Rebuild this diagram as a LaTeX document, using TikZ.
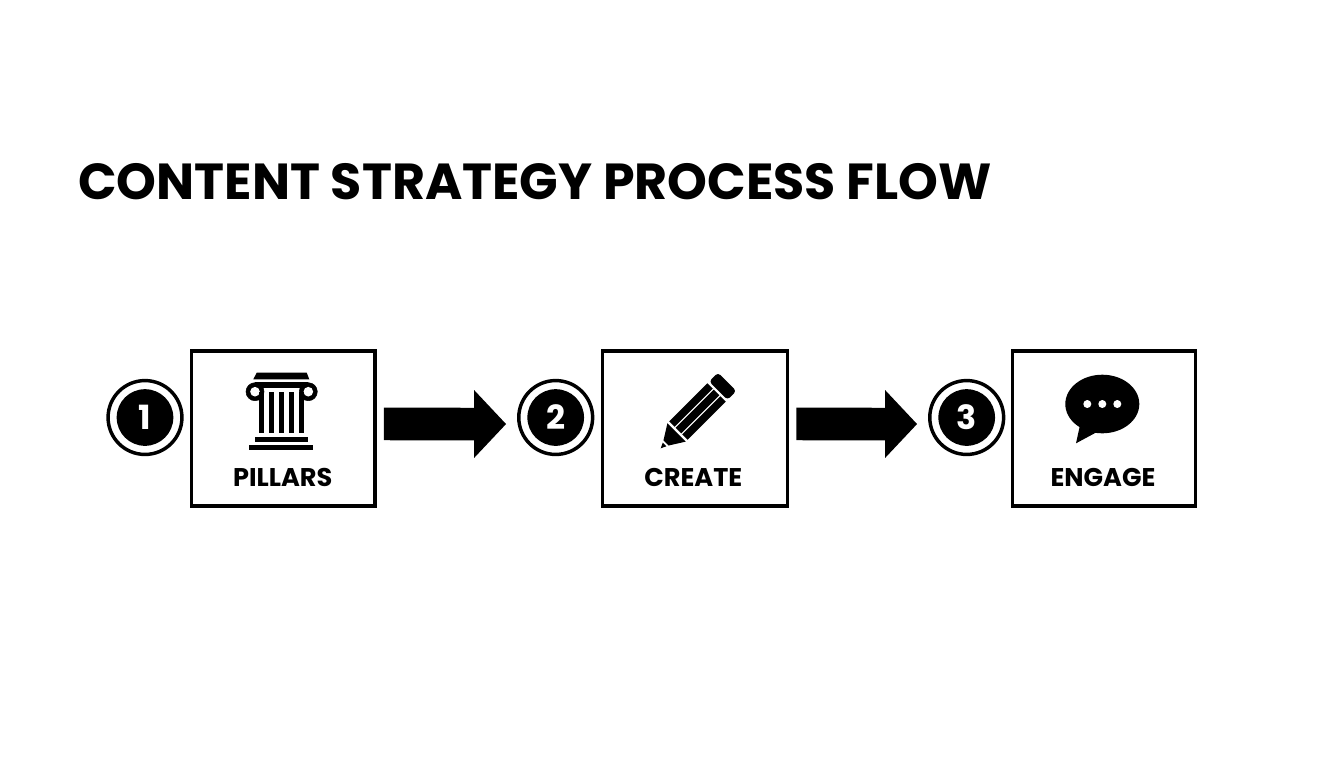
\documentclass[tikz,border=0pt]{standalone}
\usepackage{fontspec}
\usepackage{tikz}
\usetikzlibrary{positioning}
\usetikzlibrary{arrows.meta}
\setmainfont{Poppins}
\tikzset{
  stepbox/.style={draw=black, line width=2.4pt, fill=white, minimum width=137.5pt, minimum height=116.25pt, inner sep=0pt},
  badgering/.style={circle, draw=black, line width=2.6pt, fill=white, minimum size=55.4pt, inner sep=0pt},
  badgedisc/.style={circle, fill=black, text=white, minimum size=42.5pt, inner sep=0pt, font=\bfseries\fontsize{25}{25}\selectfont},
  steplabel/.style={inner sep=0pt, text=black, font=\bfseries\fontsize{19.2}{19.2}\selectfont},
  flowarrow/.style={draw=black, line width=24.4pt, -{Triangle[length=24pt,width=49.5pt]}, shorten <=5.4pt, shorten >=8.2pt},
}
\begin{document}
\begin{tikzpicture}[x=0.75pt,y=-0.75pt]
\useasboundingbox (0,0) rectangle (1344,768);
\node[anchor=base west, inner sep=0pt, font=\bfseries\fontsize{38}{38}\selectfont] (title) at (78,199) {CONTENT STRATEGY PROCESS FLOW};
% boxes
\node[stepbox] (pillars) at (283.3,428.5) {};
\node[stepbox, minimum width=139pt] (create) at (695,428.5) {};
\node[stepbox] (engage) at (1104,428.5) {};
% numbered badges
\node[badgering] (ringa) at (145,417.5) {};
\node[badgering] (ringb) at (555.7,417.5) {};
\node[badgering] (ringc) at (966.7,417.5) {};
\node[badgedisc] (numa) at (ringa) {1};
\node[badgedisc] (numb) at (ringb) {2};
\node[badgedisc] (numc) at (ringc) {3};
% labels
\node[steplabel] (lpillars) at (282.7,477.7) {PILLARS};
\node[steplabel] (lcreate) at (693.3,477.7) {CREATE};
\node[steplabel] (lengage) at (1103,477.7) {ENGAGE};
% arrows
\draw[flowarrow] ([yshift=3.4pt]pillars.east) -- ([yshift=-4.9pt]ringb.west);
\draw[flowarrow] ([yshift=3.4pt]create.east) -- ([yshift=-4.9pt]ringc.west);
% pillar icon
\fill[black] (256.7,372.7) -- (306.7,372.7) -- (309.3,379.3) -- (253.3,379.3) -- cycle;
\fill[black] (255,381.7) rectangle (308.3,388);
\filldraw[black] (255,391.7) circle [radius=9];
\filldraw[black] (308.3,391.7) circle [radius=9];
\fill[white] (255,391.7) circle [radius=4.8];
\fill[white] (308.3,391.7) circle [radius=4.8];
\foreach \colx in {259,269,279,289,299} {
  \fill[black] (\colx,392) rectangle (\colx+5,433);
}
\fill[black] (255,436.7) rectangle (308.3,442);
\fill[black] (249.3,444.7) rectangle (313.3,450);
% pencil icon
\begin{scope}[shift={(660.7,448.3)}, rotate=45]
\fill[black] (0,0) -- (5.5,-2.6) -- (5.5,2.6) -- cycle;
\fill[black] (7.5,-3.6) -- (22.5,-13) -- (22.5,13) -- (7.5,3.6) -- cycle;
\fill[black] (25,-13) rectangle (79,-5.4);
\fill[black] (25,-4) rectangle (79,4);
\fill[black] (25,5.4) rectangle (79,13);
\fill[black, rounded corners=2.5pt] (81.5,-13) rectangle (94,13);
\end{scope}
% speech bubble icon
\fill[black] (1102.3,404) ellipse [x radius=37, y radius=29.3];
\fill[black] (1080,425) -- (1076,443.3) -- (1097,432) -- cycle;
\foreach \dotx in {1087.3,1102.3,1117.3} {
  \fill[white] (\dotx,404) circle [radius=4];
}
\end{tikzpicture}
\end{document}
